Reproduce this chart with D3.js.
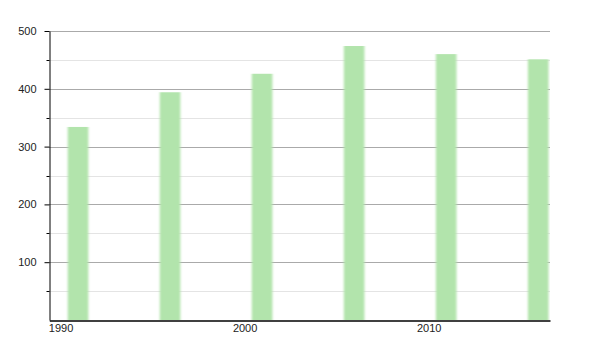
<!DOCTYPE html>
<html>
  <head>
    <meta charset="utf-8">
    <script src="https://d3js.org/d3.v7.min.js"></script>
    <style>
      body { margin: 0; background: #fff; }
      svg { font-family: "Liberation Sans", Arial, sans-serif; }
      .axis text { font-size: 11px; fill: #222; }
    </style>
  </head>
  <body>
    <svg id="chart" width="600" height="350">
      <defs>
        <filter id="soft" x="-20%" y="-5%" width="140%" height="110%">
          <feGaussianBlur stdDeviation="0.9 0.6"></feGaussianBlur>
        </filter>
        <clipPath id="plotClip"><rect></rect></clipPath>
      </defs>
      <g id="grid"></g>
      <g id="bars" clip-path="url(#plotClip)"></g>
      <g id="yAxisGroup" class="axis"></g>
      <g id="xAxisGroup" class="axis"></g>
    </svg>
    <script>
      // census years and values
      var years = [1991, 1996, 2001, 2006, 2011, 2016];
      var values = [334, 394, 426, 474, 460, 451];
      var yTicks = [100, 200, 300, 400, 500];
      var yMinorTicks = [50, 150, 250, 350, 450];
      var xTicks = [1990, 2000, 2010];

      var margin = { top: 31, right: 50, bottom: 30, left: 49.3 };
      var width = 600, height = 350;

      var x = d3.scaleLinear()
        .domain([1990, 2017.2])
        .range([margin.left, width - margin.right]);
      var y = d3.scaleLinear()
        .domain([0, 500])
        .range([height - margin.bottom - 0, margin.top]);

      var chart = d3.select("#chart");
      d3.select("#plotClip rect")
        .attr("x", margin.left)
        .attr("y", 0)
        .attr("width", width - margin.right - margin.left)
        .attr("height", height);

      // gridlines
      var grid = d3.select("#grid");
      grid.selectAll(".minor")
          .data(yMinorTicks)
        .enter().append("line")
          .attr("x1", x(1990))
          .attr("x2", width - margin.right)
          .attr("y1", function(d) { return Math.round(y(d)) + 0.5; })
          .attr("y2", function(d) { return Math.round(y(d)) + 0.5; })
          .attr("stroke", "#e4e4e4");
      grid.selectAll(".major")
          .data(yTicks)
        .enter().append("line")
          .attr("x1", x(1990))
          .attr("x2", width - margin.right)
          .attr("y1", function(d) { return Math.round(y(d)) + 0.5; })
          .attr("y2", function(d) { return Math.round(y(d)) + 0.5; })
          .attr("stroke", "#aaaaaa");

      // bars
      d3.select("#bars").selectAll("rect")
          .data(years)
        .enter().append("rect")
          .attr("x", function(d) { return x(d); })
          .attr("width", function(d) { return x(d + 1.12) - x(d); })
          .attr("y", function(d, i) { return y(values[i]); })
          .attr("height", function(d, i) { return y(0) - y(values[i]); })
          .attr("fill", "#b2e4ac")
          .attr("filter", "url(#soft)");

      // y axis
      var yAxis = d3.axisLeft(y)
        .tickValues(yTicks)
        .tickSize(5)
        .tickSizeOuter(0)
        .tickPadding(8);
      var yAxisGroup = d3.select("#yAxisGroup")
        .attr("transform", "translate(" + (Math.round(x(1990)) + 0.5) + ",0)")
        .call(yAxis);
      yAxisGroup.select(".domain").attr("stroke", "#000");
      yAxisGroup.selectAll(".tick line").attr("stroke", "#000");
      yAxisGroup.selectAll(".minorTick")
          .data(yMinorTicks)
        .enter().append("line")
          .attr("x1", -3)
          .attr("x2", 0)
          .attr("y1", function(d) { return Math.round(y(d)) + 0.5; })
          .attr("y2", function(d) { return Math.round(y(d)) + 0.5; })
          .attr("stroke", "#000");

      // x axis
      var xAxis = d3.axisBottom(x)
        .tickValues(xTicks)
        .tickFormat(d3.format("d"))
        .tickSize(0)
        .tickSizeOuter(0)
        .tickPadding(4);
      var xAxisGroup = d3.select("#xAxisGroup")
        .attr("transform", "translate(0," + (Math.round(y(0)) + 0.5) + ")")
        .call(xAxis);
      xAxisGroup.select(".domain").attr("stroke", "#000").attr("stroke-width", 1.3);
      xAxisGroup.selectAll(".tick text")
        .attr("text-anchor", "start")
        .attr("dx", -1);
    </script>
  </body>
</html>
